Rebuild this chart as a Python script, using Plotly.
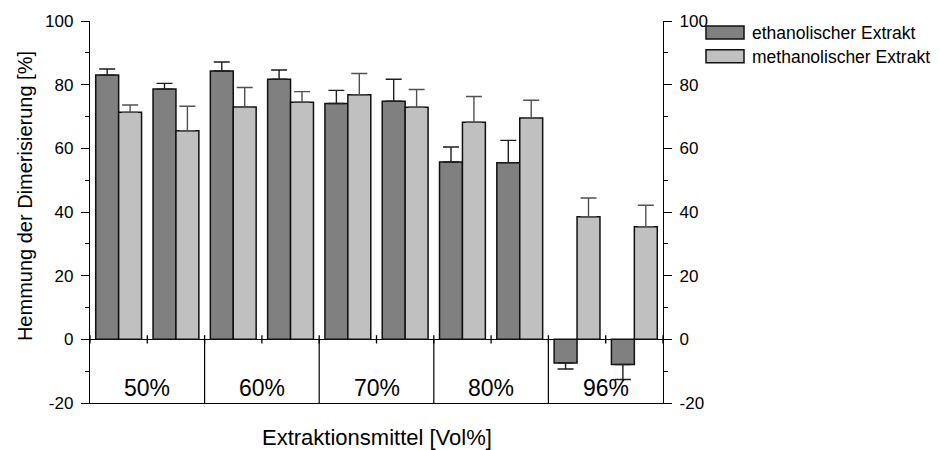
import plotly.graph_objects as go

# ---------------- data ----------------
groups = ["50%", "60%", "70%", "80%", "96%"]
series_names = ["ethanolischer Extrakt", "methanolischer Extrakt"]
samples = [0, 1, 2, 3, 4, 5, 6, 7, 8, 9]
ethanol = [83.0, 78.6, 84.3, 81.7, 74.1, 74.8, 55.7, 55.5, -7.4, -7.9]
ethanol_err = [1.9, 1.8, 2.8, 2.9, 4.1, 6.9, 4.7, 7.0, 1.9, 4.7]
methanol = [71.3, 65.5, 73.0, 74.5, 76.8, 72.9, 68.2, 69.5, 38.5, 35.4]
methanol_err = [2.3, 7.7, 6.1, 3.3, 6.7, 5.6, 8.1, 5.6, 5.9, 6.7]
y_ticks = [-20, 0, 20, 40, 60, 80, 100]
y_tick_labels = ["-20", "0", "20", "40", "60", "80", "100"]
x_title = "Extraktionsmittel [Vol%]"
y_title = "Hemmung der Dimerisierung [%]"

# ---------------- styling ----------------
FONT = "Liberation Sans, Arial, sans-serif"
colors = ["#808080", "#c0c0c0"]
err_colors = ["#1e1e1e", "#505050"]
W, H = 940, 450
L, R, T, B = 90, 277, 19, 47
plot_w = W - L - R
plot_h = H - T - B


def px_x(p):
    return (p - L) / plot_w


def px_y(p):
    return (H - B - p) / plot_h


def split_err(vals, errs):
    plus = [e if v >= 0 else 0 for v, e in zip(vals, errs)]
    minus = [e if v < 0 else 0 for v, e in zip(vals, errs)]
    return plus, minus


fig = go.Figure()
for name, vals, errs, col, ecol in zip(series_names, [ethanol, methanol],
                                       [ethanol_err, methanol_err], colors, err_colors):
    plus, minus = split_err(vals, errs)
    fig.add_trace(go.Bar(
        x=samples, y=vals, name=name, showlegend=False,
        marker=dict(color=col, line=dict(color="#111111", width=1.5)),
        error_y=dict(type="data", symmetric=False, array=plus, arrayminus=minus,
                     color=ecol, thickness=1.4, width=8),
    ))

# dummy trace so the right axis is drawn
fig.add_trace(go.Scatter(x=[None], y=[None], yaxis="y2", showlegend=False,
                         hoverinfo="skip"))

n_slots = len(samples)
group_size = n_slots // len(groups)

shapes = []
# cross ticks on zero line at slot boundaries
for k in range(n_slots + 1):
    xb = k - 0.5
    shapes.append(dict(type="line", xref="x", yref="y", x0=xb, x1=xb, y0=-1.3, y1=1.3,
                       line=dict(color="black", width=1.3)))
# separators between extraction groups
for g in range(1, len(groups)):
    xb = g * group_size - 0.5
    shapes.append(dict(type="line", xref="x", yref="y", x0=xb, x1=xb, y0=-20, y1=0,
                       line=dict(color="black", width=1.2)))

annotations = []
for g, lab in enumerate(groups):
    annotations.append(dict(x=g * group_size + (group_size - 1) / 2, y=-15.2,
                            xref="x", yref="y", text=lab, showarrow=False,
                            font=dict(family=FONT, size=23, color="black"),
                            xanchor="center", yanchor="middle"))

# axis titles
annotations.append(dict(x=0.5, y=px_y(438), xref="paper", yref="paper", text=x_title,
                        showarrow=False, font=dict(family=FONT, size=22, color="black"),
                        xanchor="center", yanchor="middle"))
annotations.append(dict(x=px_x(25), y=px_y(195), xref="paper", yref="paper", text=y_title,
                        textangle=-90, showarrow=False,
                        font=dict(family=FONT, size=20, color="black"),
                        xanchor="center", yanchor="middle"))

# custom legend
leg_rows = [(24, 37, 31), (48, 61, 55)]
for (y0, y1, yc), name, col in zip(leg_rows, series_names, colors):
    shapes.append(dict(type="rect", xref="paper", yref="paper",
                       x0=px_x(706), x1=px_x(744), y0=px_y(y1), y1=px_y(y0),
                       fillcolor=col, line=dict(color="#111111", width=1.5)))
    annotations.append(dict(x=px_x(750), y=px_y(yc), xref="paper", yref="paper",
                            text=name, showarrow=False, xanchor="left", yanchor="middle",
                            font=dict(family=FONT, size=17.5, color="black")))

axis_common = dict(
    range=[-20, 100], tickvals=y_ticks, ticktext=y_tick_labels, ticks="outside",
    ticklen=8, tickwidth=1.3,
    tickcolor="black", showline=True, linecolor="black", linewidth=1.3,
    showgrid=False, tickfont=dict(family=FONT, size=17, color="black"),
    minor=dict(dtick=10, tick0=0, ticks="outside", ticklen=4, tickwidth=1.3,
               tickcolor="black", showgrid=False),
    ticklabelstandoff=4,
)

fig.update_layout(
    width=W, height=H,
    margin=dict(l=L, r=R, t=T, b=B, pad=0),
    paper_bgcolor="white", plot_bgcolor="white",
    barmode="group", bargap=0.2, bargroupgap=0,
    font=dict(family=FONT, color="black"),
    xaxis=dict(range=[-0.5, n_slots - 0.5], showline=True, linecolor="black",
               linewidth=1.3, showticklabels=False, ticks="", showgrid=False,
               zeroline=False),
    yaxis=dict(**axis_common, zeroline=True, zerolinecolor="black", zerolinewidth=1.3),
    yaxis2=dict(**axis_common, overlaying="y", side="right", anchor="x", zeroline=False),
    shapes=shapes,
    annotations=annotations,
)

fig.write_html("out.html")
